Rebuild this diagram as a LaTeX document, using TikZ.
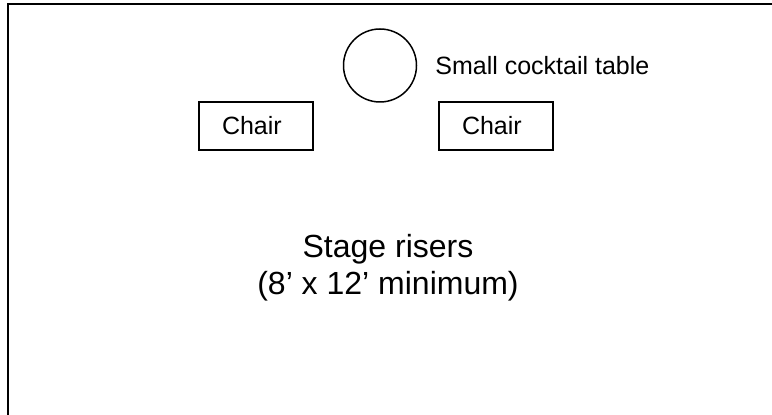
\documentclass[tikz,border=0pt]{standalone}
\usepackage{fontspec}
\setmainfont{Liberation Sans}
\tikzset{
  chairbox/.style={draw, line width=1pt, minimum height=24pt, text width=34pt,
    align=left, inner xsep=11.5pt, font=\fontsize{12.5}{15}\selectfont},
  tablecircle/.style={draw, circle, line width=0.75pt, minimum size=36.5pt, inner sep=0pt},
  smalllabel/.style={inner sep=0pt, font=\fontsize{12.5}{15}\selectfont},
  biglabel/.style={align=center, inner sep=0pt, font=\fontsize{16}{18.5}\selectfont}
}
\begin{document}
\begin{tikzpicture}[x=0.5pt, y=-0.5pt]
  \useasboundingbox (0,0) rectangle (772,415);
  \clip (0,0) rectangle (772,415);
  \draw[line width=1pt] (8,4) rectangle (800,440);
  \node[tablecircle] (table) at (380,65.5) {};
  \node[smalllabel, anchor=west] (tablelabel) at (435,66) {Small cocktail table};
  \node[chairbox] (leftchair) at (256,126) {Chair};
  \node[chairbox] (rightchair) at (496,126) {Chair};
  \node[biglabel] (stage) at (388,268) {Stage risers\\(8’ x 12’ minimum)};
\end{tikzpicture}
\end{document}
